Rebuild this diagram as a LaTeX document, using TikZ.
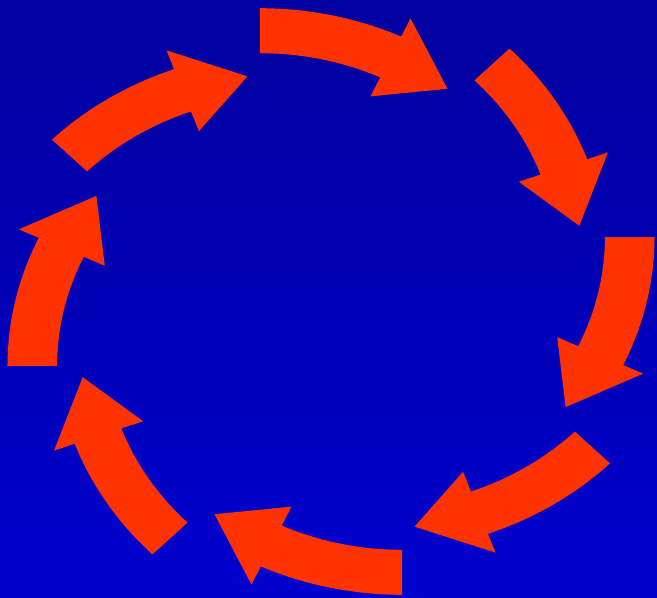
\documentclass[tikz,border=0pt]{standalone}
\definecolor{bgtop}{RGB}{0,0,158}
\definecolor{bgbot}{RGB}{0,0,206}
\definecolor{arrowred}{RGB}{255,51,0}
\tikzset{ringarrow/.style={fill=arrowred,draw=none}}
\begin{document}
\begin{tikzpicture}[x=0.5pt,y=0.5pt]
\begin{scope}[xscale=1.103]
\shade[top color=bgtop,bottom color=bgbot] (-300.09,-296.5) rectangle (295.56,301.5);
\useasboundingbox (-300.09,-296.5) rectangle (295.56,301.5);
\foreach \k in {0,...,7}{
  \begin{scope}[rotate=-45*\k, shift={(-64.4,-9.7)}]
    \path[ringarrow] (90:303) arc[start angle=90,end angle=65,radius=303]
      -- (65:323) -- (52.6:280) -- (65:237) -- (65:258)
      arc[start angle=65,end angle=90,radius=258] -- cycle;
  \end{scope}
}
\end{scope}
\end{tikzpicture}
\end{document}
